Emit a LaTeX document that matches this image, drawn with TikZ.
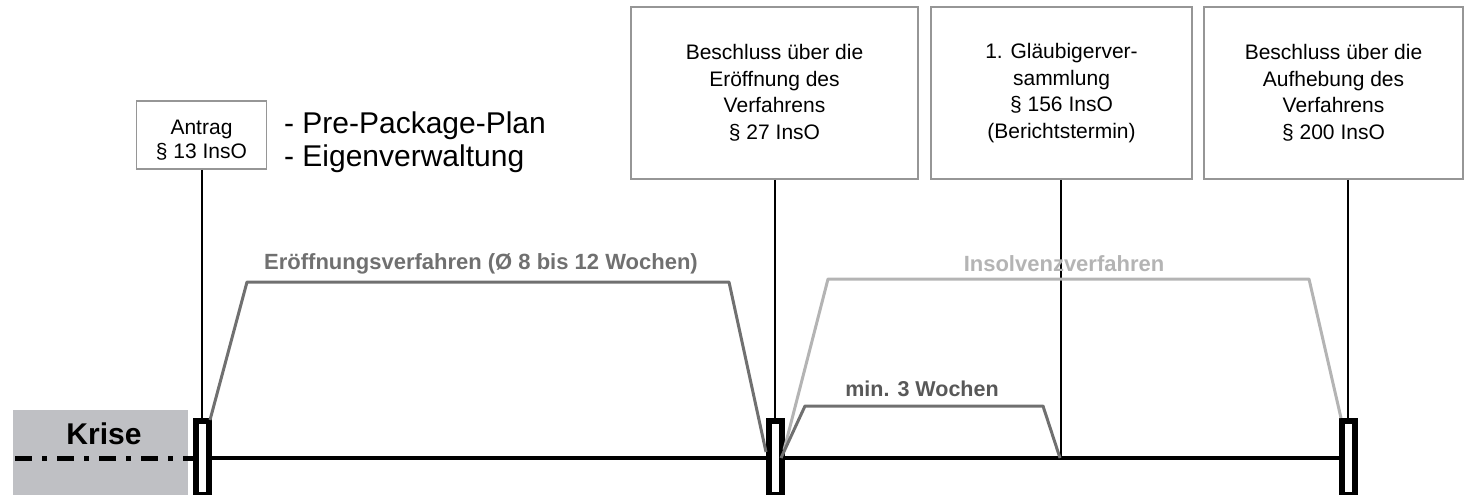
\documentclass[tikz,border=0pt]{standalone}
\usepackage{fontspec}
\setmainfont{Liberation Sans}
\usetikzlibrary{positioning}

\definecolor{krisegrey}{RGB}{191,192,196}
\definecolor{phasegrey}{RGB}{112,112,112}
\definecolor{insogrey}{RGB}{180,180,180}
\definecolor{mingrey}{RGB}{88,88,88}
\definecolor{boxline}{RGB}{150,150,150}

\tikzset{every picture/.style={line width=0.75pt}}
\tikzset{
  eventbox/.style={draw=boxline,line width=1.5pt,fill=white,align=center,inner sep=0pt,font=\fontsize{21}{26.5}\selectfont},
  marker/.style={draw=black,line width=6pt,fill=white,rectangle,inner sep=0pt,minimum width=13pt,minimum height=74pt},
  connector/.style={draw=black,line width=2pt},
  phaselabel/.style={font=\bfseries\fontsize{22}{25}\selectfont,inner sep=0.75pt}
}

\begin{document}
\begin{tikzpicture}[x=1pt,y=1pt,yscale=-1,xscale=1]
	\useasboundingbox (0,0) rectangle (1470,495);
	
	%Shape: Rectangle [id:krise]
	\fill [krisegrey] (13,410) rectangle (188,500) ;
	% Text Node
	\draw (104,434) node [font=\bfseries\fontsize{30}{34}\selectfont][inner sep=0.75pt] (krise) {Krise};
	
	% Markers
	\draw (202,458) node [marker] (m1) {};
	\draw (775,458) node [marker] (m2) {};
	\draw (1348,458) node [marker] (m3) {};
	\coordinate (gv) at (1061,458);
	
	%Straight Lines [id:dashdot]
	\draw [line width=5pt,dash pattern={on 17pt off 10pt on 5pt off 10pt}]  (15,458) -- (m1.west) ;
	%Straight Lines [id:timeline]
	\draw [line width=4pt]  (m1.east) -- (m2.west) (m2.east) -- (m3.west) ;
	
	% Event boxes
	\draw (201.5,135) node [eventbox,minimum width=130pt,minimum height=68pt,font=\fontsize{21}{24}\selectfont] (antrag) {\rule{0pt}{25pt}Antrag\\\S\ 13 InsO};
	\draw (774.5,93) node [eventbox,minimum width=287pt,minimum height=172pt] (eroeff) {Beschluss über die\\Eröffnung des\\Verfahrens\\\S\ 27 InsO};
	\draw (1061.5,93) node [eventbox,minimum width=261pt,minimum height=172pt] (glaeub) {1. Gläubigerver-\\sammlung\\\S\ 156 InsO\\(Berichtstermin)};
	\draw (1333.5,93) node [eventbox,minimum width=259pt,minimum height=172pt] (aufheb) {Beschluss über die\\Aufhebung des\\Verfahrens\\\S\ 200 InsO};
	
	% Text Node
	\draw (283,133) node [anchor=base west][inner sep=0.75pt,font=\fontsize{30}{33}\selectfont] (prepack) {- Pre-Package-Plan};
	% Text Node
	\draw (283,166) node [anchor=base west][inner sep=0.75pt,font=\fontsize{30}{33}\selectfont] (eigen) {- Eigenverwaltung};
	
	% Connectors
	\draw [connector] (antrag.south -| m1.north) -- (m1.north) ;
	\draw [connector] (eroeff.south -| m2.north) -- (m2.north) ;
	\draw [connector] (glaeub.south -| gv) -- (gv) ;
	\draw [connector] (aufheb.south -| m3.north) -- (m3.north) ;
	
	%Shape: Trapezium [id:eroeffnungsverfahren]
	\draw [phasegrey,line width=3pt,line join=round]  (210,420) -- (247,282) -- (729,282) -- (766,452) ;
	%Shape: Trapezium [id:insolvenzverfahren]
	\draw [insogrey,line width=3pt,line join=round]  (784,450) -- (828,279) -- (1309,279) -- (1341,418) ;
	%Shape: Trapezium [id:minwochen]
	\draw [phasegrey,line width=3pt,line join=round]  (781,458) -- (805,406) -- (1043,406) -- (1060,458) ;
	
	% Text Node
	\draw (481,264) node [phaselabel,text=phasegrey] (eroefflabel) {Eröffnungsverfahren (Ø 8 bis 12 Wochen)};
	% Text Node
	\draw (1064,264) node [phaselabel,text=insogrey] (insolabel) {Insolvenzverfahren};
	% Text Node
	\draw (922,389) node [phaselabel,text=mingrey,font=\bfseries\fontsize{21.5}{25}\selectfont] (minlabel) {min. 3 Wochen};
	
\end{tikzpicture}
\end{document}
